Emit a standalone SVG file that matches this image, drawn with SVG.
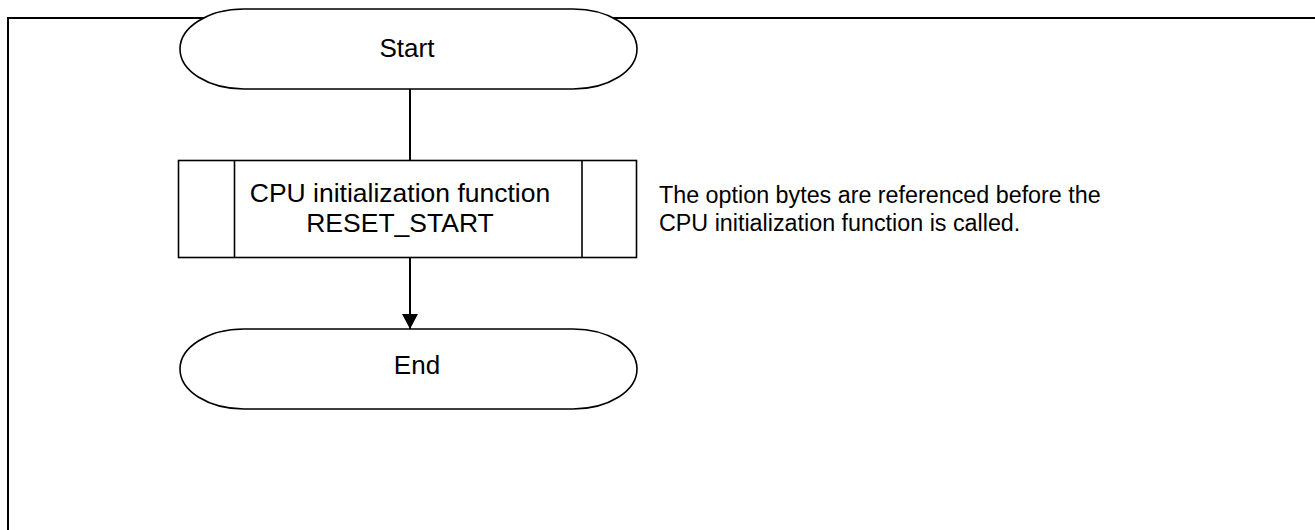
<svg xmlns="http://www.w3.org/2000/svg" width="1315" height="530" viewBox="0 0 1315 530">
<defs>
<style>
.shape{fill:#fff;stroke:#000;stroke-width:1.6}
.line{fill:none;stroke:#000;stroke-width:2}
.t{font-family:"Liberation Sans",Arial,sans-serif;fill:#000}
.big{font-size:26px;text-anchor:middle}
.box{font-size:26.5px;text-anchor:middle}
.note{font-size:23.3px}
</style>
<marker id="arr" markerWidth="16" markerHeight="16" refX="15" refY="8" orient="auto" markerUnits="userSpaceOnUse">
<path d="M0,0 L15,8 L0,16 Z" fill="#000"/>
</marker>
</defs>
<rect width="1315" height="530" fill="#fff"/>
<path class="line" d="M8,530 V18 H1315"/>
<g id="connectors">
<line class="line" x1="410" y1="89" x2="410" y2="160"/>
<line class="line" x1="410" y1="258" x2="410" y2="329" marker-end="url(#arr)"/>
</g>
<g id="start">
<rect class="shape" x="180" y="9" width="457" height="80" rx="64" ry="40"/>
<text class="t big" x="407" y="57">Start</text>
</g>
<g id="cpu-init">
<rect class="shape" x="178.5" y="160.5" width="458" height="97"/>
<line class="shape" x1="234.5" y1="160.5" x2="234.5" y2="257.5"/>
<line class="shape" x1="582" y1="160.5" x2="582" y2="257.5"/>
<text class="t box" x="400" y="201.5">CPU initialization function</text>
<text class="t box" x="400" y="231.5">RESET_START</text>
</g>
<g id="end">
<rect class="shape" x="180" y="329" width="457" height="80" rx="64" ry="40"/>
<text class="t big" x="417" y="374">End</text>
</g>
<g id="note">
<text class="t note" x="659" y="203">The option bytes are referenced before the</text>
<text class="t note" x="659" y="230.5">CPU initialization function is called.</text>
</g>
</svg>
